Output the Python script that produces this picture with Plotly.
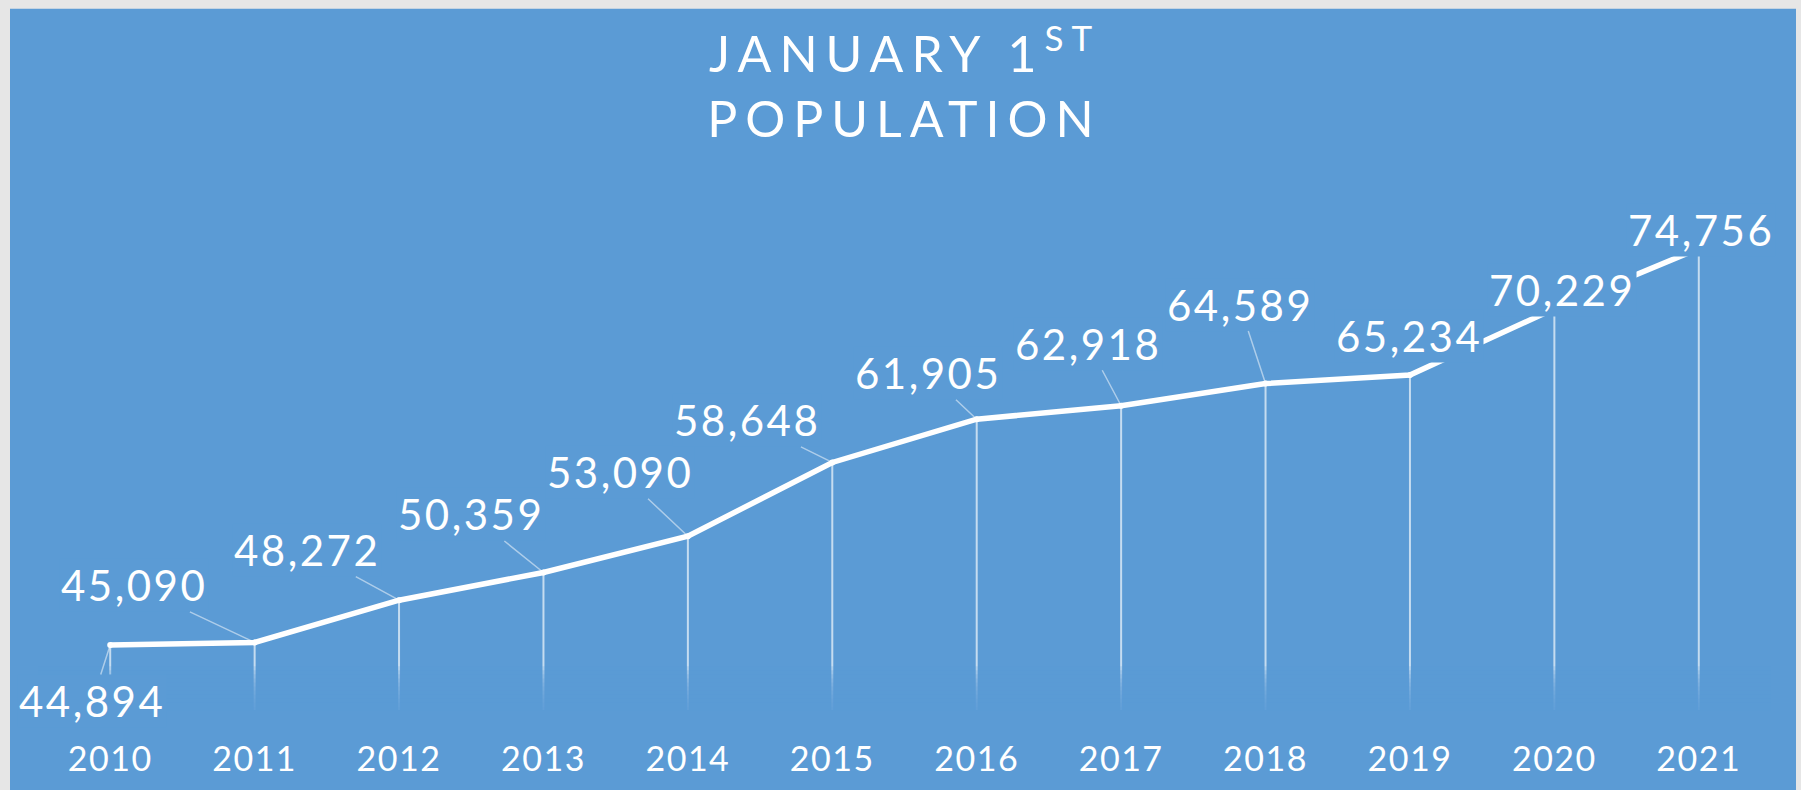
import plotly.graph_objects as go

# ---- data ----
years = ["2010", "2011", "2012", "2013", "2014", "2015",
         "2016", "2017", "2018", "2019", "2020", "2021"]
population = [44894, 45090, 48272, 50359, 53090, 58648,
              61905, 62918, 64589, 65234, 70229, 74756]

# label placement (pixel offsets from each point) and leader-line flags
label_dx = [-18, -121, -92, -72, -68, -85, -49, -33, -26, -1, 8, 2]
label_dy = [56, -57, -50, -58, -64, -42, -46, -62, -79, -39, -19, -19]
leader = [True, True, True, True, True, True, True, True, True, False, False, False]

Y_MIN, Y_MAX = 40000, 80000

# ---- layout geometry / style ----
W, H = 1801, 790
L, R, T, B = 38, 30, 179, 78
PW, PH = W - L - R, H - T - B
BLUE = "#5B9BD5"
GRAY = "#E6E6E6"
FONT = "Lato"


def px_to_paper_x(px):
    return (px - L) / PW


def px_to_paper_y(py):
    return (H - B - py) / PH


def spaced(s, px):
    return f"<span style='letter-spacing:{px}px'>{s}</span>"


fig = go.Figure()
fig.add_trace(go.Scatter(
    x=years, y=population,
    mode="lines+markers",
    line=dict(color="white", width=5.5),
    marker=dict(size=6, color="white"),
    error_y=dict(type="data", symmetric=False,
                 array=[0] * len(population),
                 arrayminus=[v - Y_MIN for v in population],
                 color="rgba(255,255,255,0.65)", thickness=2, width=0),
    hoverinfo="skip",
    showlegend=False,
))

for i, (v, dx, dy, ld) in enumerate(zip(population, label_dx, label_dy, leader)):
    common = dict(x=i, y=v, xref="x", yref="y", text=spaced(f"{v:,}", 2.5),
                  font=dict(family=FONT, size=42, color="white", weight=400),
                  bgcolor=BLUE)
    if ld:
        fig.add_annotation(**common, showarrow=True, ax=dx, ay=dy,
                           arrowhead=0, arrowwidth=1.5,
                           arrowcolor="rgba(255,255,255,0.5)")
    else:
        fig.add_annotation(**common, showarrow=False, xshift=dx, yshift=-dy)

# blue panel + stepped fade for the drop lines near the axis
shapes = [dict(type="rect", xref="paper", yref="paper", layer="below",
               x0=px_to_paper_x(10), x1=px_to_paper_x(1796),
               y0=px_to_paper_y(H + 10), y1=px_to_paper_y(8),
               fillcolor=BLUE, line=dict(width=0))]
n_steps = 11
fade_top, fade_bot = 668, 713
for k in range(n_steps):
    y_top = fade_top + (fade_bot - fade_top) * k / n_steps
    shapes.append(dict(type="rect", xref="paper", yref="paper", layer="above",
                       x0=0, x1=1,
                       y0=px_to_paper_y(fade_bot), y1=px_to_paper_y(y_top),
                       fillcolor=BLUE, opacity=0.2, line=dict(width=0)))

fig.update_layout(
    width=W, height=H,
    margin=dict(l=L, r=R, t=T, b=B, pad=0),
    paper_bgcolor=GRAY,
    plot_bgcolor="rgba(0,0,0,0)",
    font=dict(family=FONT, color="white"),
    title=dict(
        text=spaced("JANUARY 1<sup>ST</sup>", 8) + "<br>" + spaced("POPULATION", 8),
        font=dict(family=FONT, size=50, color="white", weight=400),
        x=0.5, xref="paper", xanchor="center",
        y=1 - 72 / H, yref="container", yanchor="middle",
    ),
    xaxis=dict(type="category", range=[-0.5, len(years) - 0.5],
               tickmode="array", tickvals=years,
               ticktext=[spaced(y, 1.5) for y in years],
               showgrid=False, zeroline=False, showline=False, ticks="",
               tickfont=dict(family=FONT, size=34, color="white", weight=400),
               ticklabelstandoff=26, fixedrange=True),
    yaxis=dict(range=[Y_MIN, Y_MAX], visible=False, showgrid=False,
               zeroline=False, fixedrange=True),
    shapes=shapes,
    hovermode=False,
)

fig.write_html(
    "out.html",
    config={"displayModeBar": False},
    post_script="document.body.style.margin='0';"
                "document.body.style.background='%s';"
                "document.body.style.overflow='hidden';" % GRAY,
)
